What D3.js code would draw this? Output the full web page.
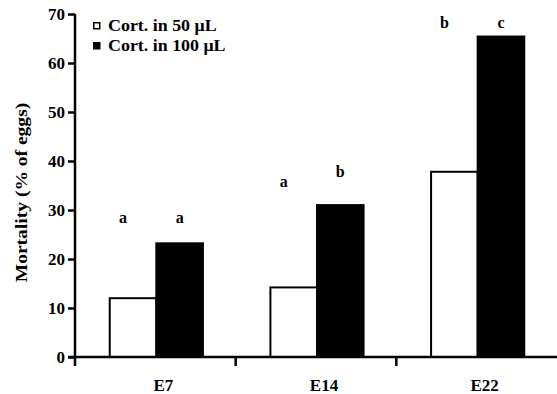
<!DOCTYPE html>
<html>
<head>
<meta charset="utf-8">
<script src="https://cdn.jsdelivr.net/npm/d3@7"></script>
<style>
  body { margin: 0; background: #fff; }
  svg { display: block; font-family: "Liberation Serif", "DejaVu Serif", serif; }
</style>
</head>
<body>
<div id="chart"></div>
<script>
// data
const categories = ["E7", "E14", "E22"];
const series = ["Cort. in 50 \u03bcL", "Cort. in 100 \u03bcL"];
const cort50 = [12, 14.2, 37.8];
const cort100 = [23.2, 31, 65.4];
const letters50 = ["a", "a", "b"];
const letters100 = ["a", "b", "c"];
const letterY50 = [27.3, 34.7, 67.1];
const letterY100 = [27.3, 36.7, 67.1];
const yTicks = [0, 10, 20, 30, 40, 50, 60, 70];

const width = 557, height = 394;
const margin = { top: 14, right: 0, bottom: 37, left: 75 };

const svg = d3.select("#chart").append("svg")
    .attr("width", width)
    .attr("height", height);

const x = d3.scaleBand()
    .domain(categories)
    .range([margin.left + 1, width + 1])
    .padding(0);

const x1 = d3.scaleBand()
    .domain([0, 1])
    .range([x.bandwidth() * 0.21, x.bandwidth() * 0.79]);

const y = d3.scaleLinear()
    .domain([0, 70])
    .range([height - margin.bottom, margin.top]);

const rows = categories.map((c, i) => ({
    cat: c,
    vals: [
        { s: 0, v: cort50[i], l: letters50[i], ly: letterY50[i] },
        { s: 1, v: cort100[i], l: letters100[i], ly: letterY100[i] }
    ]
}));

// bars
const groups = svg.append("g").selectAll("g")
    .data(rows)
    .join("g")
    .attr("transform", d => `translate(${x(d.cat)},0)`);

groups.selectAll("rect")
    .data(d => d.vals)
    .join("rect")
    .attr("x", d => x1(d.s))
    .attr("y", d => y(d.v))
    .attr("width", x1.bandwidth())
    .attr("height", d => y(0) - y(d.v))
    .attr("fill", d => d.s === 0 ? "#fff" : "#000")
    .attr("stroke", "#000")
    .attr("stroke-width", 2);

// significance letters
groups.selectAll("text")
    .data(d => d.vals)
    .join("text")
    .attr("x", d => x1(d.s) + x1.bandwidth() / 2 + (d.s === 0 ? -10 : 0))
    .attr("y", d => y(d.ly))
    .attr("text-anchor", "middle")
    .style("font-size", "16px")
    .style("font-weight", "bold")
    .text(d => d.l);

// y axis
const yAxis = svg.append("g")
    .attr("transform", `translate(${margin.left},0)`)
    .call(d3.axisLeft(y).tickValues(yTicks).tickSize(7).tickPadding(3));
yAxis.select(".domain").attr("stroke-width", 2.5).attr("d", `M0,${y(70)}V${y(0)}`);
yAxis.selectAll(".tick line").attr("stroke-width", 2.5);
yAxis.selectAll(".tick text")
    .style("font-family", "Liberation Serif, serif")
    .style("font-size", "17px")
    .style("font-weight", "bold")
    .attr("fill", "#000");

// x axis
const xAxis = svg.append("g")
    .attr("transform", `translate(0,${y(0)})`);
xAxis.append("line")
    .attr("x1", margin.left - 7)
    .attr("x2", width)
    .attr("stroke", "#000")
    .attr("stroke-width", 2.5);
xAxis.selectAll("line.tk")
    .data(categories)
    .join("line")
    .attr("class", "tk")
    .attr("x1", d => x(d) - 1)
    .attr("x2", d => x(d) - 1)
    .attr("y1", 0)
    .attr("y2", 9)
    .attr("stroke", "#000")
    .attr("stroke-width", 2.5);
xAxis.selectAll("text")
    .data(categories)
    .join("text")
    .attr("x", d => x(d) + x.bandwidth() / 2 + 7)
    .attr("y", 34)
    .attr("text-anchor", "middle")
    .style("font-size", "17px")
    .style("font-weight", "bold")
    .text(d => d);

// y axis title
svg.append("text")
    .attr("transform", `translate(27,${(y(0) + y(70)) / 2 + 7}) rotate(-90) scale(1.15,1)`)
    .attr("text-anchor", "middle")
    .style("font-size", "17px")
    .style("font-weight", "bold")
    .text("Mortality (% of eggs)");

// legend
const legend = svg.append("g").attr("transform", "translate(93,22)");
const li = legend.selectAll("g")
    .data(series)
    .join("g")
    .attr("transform", (d, i) => `translate(0,${i * 20})`);
li.append("rect")
    .attr("x", 0.75).attr("y", 0.75)
    .attr("width", 6).attr("height", 6)
    .attr("fill", (d, i) => i === 0 ? "#fff" : "#000")
    .attr("stroke", "#000")
    .attr("stroke-width", 1.5);
li.append("text")
    .attr("transform", "translate(15,8.5) scale(1.12,1)")
    .style("font-size", "16px")
    .style("font-weight", "bold")
    .text(d => d);
</script>
</body>
</html>
